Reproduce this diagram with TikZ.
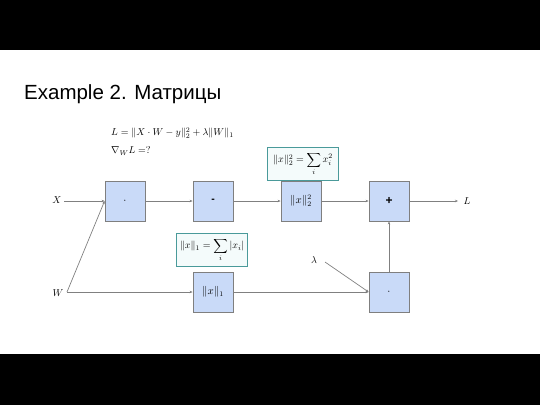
\documentclass[tikz,border=0pt]{standalone}
\usepackage{fontspec}
\setmainfont{Liberation Sans}
\usepackage{amsmath}
\usetikzlibrary{arrows.meta}
\definecolor{boxfill}{HTML}{C9DAF8}
\definecolor{boxdraw}{HTML}{7F7F7F}
\definecolor{calldraw}{HTML}{4A9A9A}
\definecolor{callfill}{HTML}{F4FBFB}
\definecolor{linecol}{HTML}{808080}
\tikzset{
  opbox/.style={draw=boxdraw, fill=boxfill, line width=0.8pt, minimum width=40pt, minimum height=40pt, inner sep=0pt, font=\fontsize{10.5}{12}\selectfont},
  callout/.style={draw=calldraw, fill=callfill, line width=0.9pt, minimum width=71pt, minimum height=33pt, inner sep=1pt, font=\fontsize{10}{11}\selectfont},
  conn/.style={draw=linecol, line width=0.7pt, -{Stealth[length=3pt,width=2.5pt]}},
  lbl/.style={inner sep=1pt, font=\fontsize{10}{11}\selectfont},
}
\begin{document}
\begin{tikzpicture}[x=1pt,y=-1pt]
\useasboundingbox (0,0) rectangle (540,405);
\fill[black] (0,0) rectangle (540,50);
\fill[black] (0,354) rectangle (540,405);
\node[anchor=west, font=\fontsize{20.5}{23}\selectfont, inner sep=0pt] (title) at (24,94) {Example 2. Матрицы};
\node[anchor=west, inner sep=0pt, font=\fontsize{10}{11}\selectfont] (f1) at (111,133) {$L=\|X\cdot W-y\|_2^2+\lambda\|W\|_1$};
\node[anchor=west, inner sep=0pt, font=\fontsize{10}{11}\selectfont] (f2) at (111,151) {$\nabla_W L=?$};
% callouts
\node[callout] (c2) at (303,164) {$\|x\|_2^2=\displaystyle\sum_i x_i^2$};
\node[callout] (c1) at (212,250) {$\|x\|_1=\displaystyle\sum_i |x_i|$};
% boxes
\node[opbox] (dot1) at (125,201) {$\cdot$};
\node[opbox] (minus) at (213,201) {\textbf{-}};
\node[opbox] (sq) at (301,201) {$\|x\|_2^2$};
\node[opbox, font=\fontsize{12}{12}\selectfont] (plus) at (389,201) {\textbf{+}};
\node[opbox] (n1) at (213,292) {$\|x\|_1$};
\node[opbox] (dot2) at (389,292) {$\cdot$};
% labels
\node[lbl] (X) at (57,200) {$X$};
\node[lbl] (W) at (58,293) {$W$};
\node[lbl] (lam) at (314,260) {$\lambda$};
\node[lbl] (L) at (467,201) {$L$};
\coordinate (wp) at (67,292);
\coordinate (xp) at (64,201);
\coordinate (lp) at (325,262);
\coordinate (lend) at (458,201);
% connectors
\draw[conn] (xp) -- (dot1.west);
\draw[conn] (wp) -- (dot1.west);
\draw[conn] (wp) -- (n1.west);
\draw[conn] (dot1) -- (minus);
\draw[conn] (minus) -- (sq);
\draw[conn] (sq) -- (plus);
\draw[conn] (plus.east) -- (lend);
\draw[conn] (n1) -- (dot2);
\draw[conn] (lp) -- (dot2.west);
\draw[conn] (dot2) -- (plus);
\end{tikzpicture}
\end{document}
